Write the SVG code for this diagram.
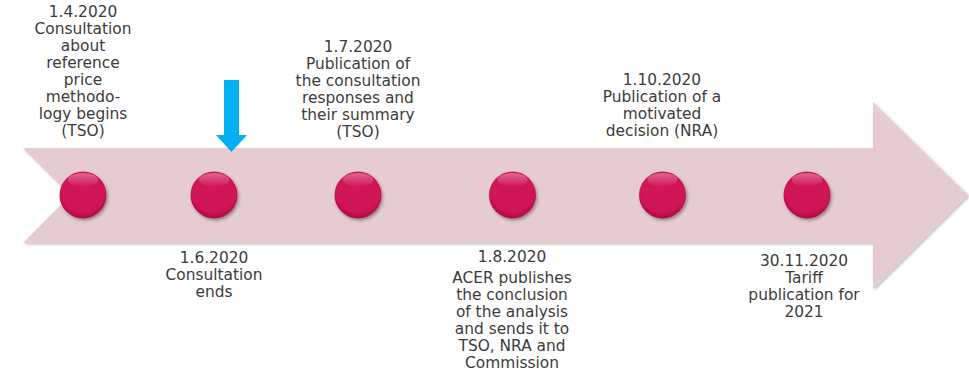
<svg xmlns="http://www.w3.org/2000/svg" width="969" height="373" viewBox="0 0 969 373">
<style>
.t{font-family:"DejaVu Sans","Verdana",sans-serif;font-size:15.4px;fill:#3b3b3b;text-anchor:middle}
.dot{fill:url(#dg);filter:url(#ds)}
</style>
<defs>
<radialGradient id="dg" cx="0.5" cy="0.4" r="0.6">
<stop offset="0" stop-color="#D2145A"/>
<stop offset="0.8" stop-color="#CE1256"/>
<stop offset="1" stop-color="#A80D45"/>
</radialGradient>
<linearGradient id="hl" x1="0" y1="0" x2="0" y2="1">
<stop offset="0" stop-color="#ffffff" stop-opacity="0.35"/>
<stop offset="1" stop-color="#ffffff" stop-opacity="0"/>
</linearGradient>
<filter id="ds" x="-30%" y="-30%" width="160%" height="160%">
<feDropShadow dx="1.5" dy="2" stdDeviation="1.5" flood-color="#000" flood-opacity="0.35"/>
</filter>
<filter id="bs" x="-5%" y="-10%" width="110%" height="120%">
<feDropShadow dx="1.5" dy="1.5" stdDeviation="1" flood-color="#000" flood-opacity="0.25"/>
</filter>
</defs>
<g id="timeline">
<polygon points="23,148 873,148 873,102 968,195 873,289 873,243 23,243 70,195.5" fill="#E6CBD0" filter="url(#bs)"/>
</g>
<g id="connectors">
<polygon points="224,80 239,80 239,135 247,135 231.5,152 216,135 224,135" fill="#00B0F0"/>
</g>
<g id="node1">
<circle class="dot" cx="83" cy="195" r="23.5"/>
<ellipse cx="83" cy="180" rx="15" ry="7" fill="url(#hl)"/>
<text class="t"><tspan x="83" y="17">1.4.2020</tspan><tspan x="83" y="34">Consultation</tspan><tspan x="83" y="51">about</tspan><tspan x="83" y="68">reference</tspan><tspan x="83" y="85">price</tspan><tspan x="83" y="102">methodo-</tspan><tspan x="83" y="119">logy begins</tspan><tspan x="83" y="136">(TSO)</tspan></text>
</g>
<g id="node2">
<circle class="dot" cx="214" cy="195" r="23.5"/>
<ellipse cx="214" cy="180" rx="15" ry="7" fill="url(#hl)"/>
<text class="t"><tspan x="214" y="263">1.6.2020</tspan><tspan x="214" y="280">Consultation</tspan><tspan x="214" y="297">ends</tspan></text>
</g>
<g id="node3">
<circle class="dot" cx="358" cy="195" r="23.5"/>
<ellipse cx="358" cy="180" rx="15" ry="7" fill="url(#hl)"/>
<text class="t"><tspan x="358" y="52">1.7.2020</tspan><tspan x="358" y="69">Publication of</tspan><tspan x="358" y="86">the consultation</tspan><tspan x="358" y="103">responses and</tspan><tspan x="358" y="120">their summary</tspan><tspan x="358" y="137">(TSO)</tspan></text>
</g>
<g id="node4">
<circle class="dot" cx="512.5" cy="195" r="23.5"/>
<ellipse cx="512.5" cy="180" rx="15" ry="7" fill="url(#hl)"/>
<text class="t"><tspan x="512" y="262">1.8.2020</tspan><tspan x="512" y="283">ACER publishes</tspan><tspan x="512" y="300">the conclusion</tspan><tspan x="512" y="317">of the analysis</tspan><tspan x="512" y="334">and sends it to</tspan><tspan x="512" y="351">TSO, NRA and</tspan><tspan x="512" y="368">Commission</tspan></text>
</g>
<g id="node5">
<circle class="dot" cx="662.5" cy="195" r="23.5"/>
<ellipse cx="662.5" cy="180" rx="15" ry="7" fill="url(#hl)"/>
<text class="t"><tspan x="662" y="85">1.10.2020</tspan><tspan x="662" y="102">Publication of a</tspan><tspan x="662" y="119">motivated</tspan><tspan x="662" y="136">decision (NRA)</tspan></text>
</g>
<g id="node6">
<circle class="dot" cx="807" cy="195" r="23.5"/>
<ellipse cx="807" cy="180" rx="15" ry="7" fill="url(#hl)"/>
<text class="t"><tspan x="804" y="266">30.11.2020</tspan><tspan x="804" y="283">Tariff</tspan><tspan x="804" y="300">publication for</tspan><tspan x="804" y="317">2021</tspan></text>
</g>
</svg>
